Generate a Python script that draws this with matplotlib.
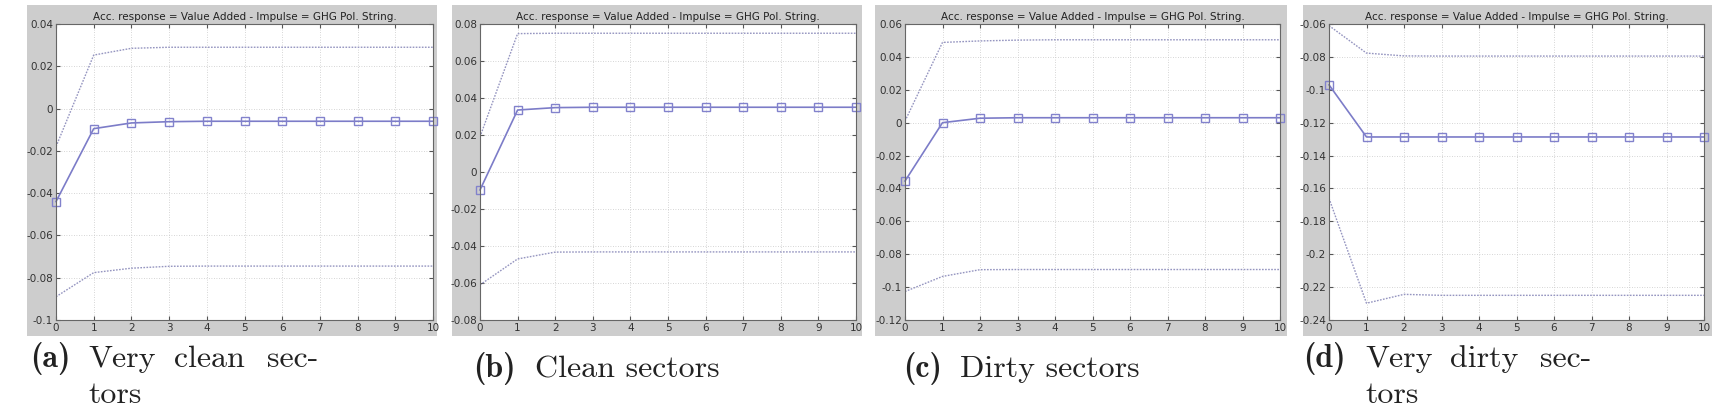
import matplotlib
matplotlib.use('Agg')
import matplotlib.pyplot as plt
import matplotlib.ticker as mticker
from matplotlib.patches import Rectangle
import numpy as np

# Horizon (periods)
steps = list(range(0, 11))

# (a) Very clean sectors
a_up = [-0.018, 0.0253, 0.0285, 0.029, 0.029, 0.029, 0.029, 0.029, 0.029, 0.029, 0.029]
a_mid = [-0.044, -0.0095, -0.0068, -0.0062, -0.006, -0.006, -0.006, -0.006, -0.006, -0.006, -0.006]
a_lo = [-0.089, -0.0776, -0.0755, -0.0746, -0.0745, -0.0745, -0.0745, -0.0745, -0.0745, -0.0745, -0.0745]

# (b) Clean sectors
b_up = [0.019, 0.0748, 0.075, 0.075, 0.075, 0.075, 0.075, 0.075, 0.075, 0.075, 0.075]
b_mid = [-0.0097, 0.0335, 0.0348, 0.035, 0.035, 0.035, 0.035, 0.035, 0.035, 0.035, 0.035]
b_lo = [-0.061, -0.047, -0.0433, -0.0432, -0.0432, -0.0432, -0.0432, -0.0432, -0.0432, -0.0432, -0.0432]

# (c) Dirty sectors
c_up = [0.001, 0.0488, 0.0497, 0.0502, 0.0504, 0.0504, 0.0504, 0.0504, 0.0504, 0.0504, 0.0504]
c_mid = [-0.0355, 0.0, 0.0027, 0.003, 0.003, 0.003, 0.003, 0.003, 0.003, 0.003, 0.003]
c_lo = [-0.1027, -0.0935, -0.0894, -0.0893, -0.0893, -0.0893, -0.0893, -0.0893, -0.0893, -0.0893, -0.0893]

# (d) Very dirty sectors
d_up = [-0.061, -0.0777, -0.0794, -0.0795, -0.0795, -0.0795, -0.0795, -0.0795, -0.0795, -0.0795, -0.0795]
d_mid = [-0.097, -0.1287, -0.1287, -0.1287, -0.1287, -0.1287, -0.1287, -0.1287, -0.1287, -0.1287, -0.1287]
d_lo = [-0.166, -0.2298, -0.2244, -0.225, -0.225, -0.225, -0.225, -0.225, -0.225, -0.225, -0.225]

ylims = [(-0.1, 0.04), (-0.08, 0.08), (-0.12, 0.06), (-0.24, -0.06)]
title = 'Acc. response = Value Added - Impulse = GHG Pol. String.'

W, H = 1717, 419
fig = plt.figure(figsize=(W / 100, H / 100), dpi=100)
fig.patch.set_facecolor('white')

def fx(px):
    return px / W

def fy(py):
    return 1 - py / H

# Gray MATLAB figure boxes (x0, x1) and axes (left, right) in pixels
boxes = [(27, 437), (452, 862), (875, 1287), (1303, 1712)]
axes_x = [(56, 433), (480, 856), (905, 1280), (1329, 1704)]
ax_top, ax_bot = 24, 320
box_top, box_bot = 5, 336

series = [(a_up, a_mid, a_lo), (b_up, b_mid, b_lo), (c_up, c_mid, c_lo), (d_up, d_mid, d_lo)]

def fmt(v, p):
    if abs(v) < 1e-9:
        return '0'
    return '%g' % round(v, 4)

for i in range(4):
    bx0, bx1 = boxes[i]
    fig.patches.append(Rectangle((fx(bx0), fy(box_bot)), fx(bx1 - bx0), (box_bot - box_top) / H,
                                 transform=fig.transFigure, facecolor='#cdcdcd', edgecolor='none', zorder=-10))
    l, r = axes_x[i]
    ax = fig.add_axes([fx(l), fy(ax_bot), fx(r - l), (ax_bot - ax_top) / H])
    ax.set_zorder(1)
    ax.set_facecolor('white')
    up, mid, lo = series[i]
    ax.plot(steps, up, linestyle=(0, (1.2, 1.0)), color='#9595c0', lw=1.0)
    ax.plot(steps, lo, linestyle=(0, (1.2, 1.0)), color='#9595c0', lw=1.0)
    ax.plot(steps, mid, '-', color='#7c7cc8', lw=1.2, marker='s', ms=6,
            markerfacecolor='none', markeredgecolor='#8282cc', markeredgewidth=1.0, clip_on=False)
    ax.set_xlim(0, 10)
    ax.set_ylim(*ylims[i])
    ax.set_xticks(steps)
    ax.yaxis.set_major_locator(mticker.MultipleLocator(0.02))
    ax.yaxis.set_major_formatter(mticker.FuncFormatter(fmt))
    ax.grid(True, linestyle=(0, (1, 2)), color='#c8c8c8', lw=0.6)
    ax.tick_params(direction='in', top=True, right=True, labelsize=7.5, colors='#555555',
                   labelcolor='#333333', length=3, pad=2)
    for s in ax.spines.values():
        s.set_color('#666666')
        s.set_linewidth(0.8)
    ax.set_title(title, fontsize=7.5, color='#222222', pad=3)

# Captions (LaTeX-like subcaptions)
cap_size = 23
def caption(label, x_lab, words, baseline):
    fig.text(fx(x_lab), fy(baseline), label, family='cmb10', fontsize=cap_size,
             color='#222222', va='baseline', ha='left')
    for w, xw in words:
        fig.text(fx(xw), fy(baseline), w, family='cmr10', fontsize=cap_size,
                 color='#222222', va='baseline', ha='left')

caption('(a)', 30, [('Very', 88), ('clean', 174), ('sec-', 267)], 367)
fig.text(fx(88), fy(403), 'tors', family='cmr10', fontsize=cap_size, color='#222222', va='baseline')
caption('(b)', 473, [('Clean sectors', 535)], 377)
caption('(c)', 903, [('Dirty sectors', 960)], 377)
caption('(d)', 1303, [('Very', 1365), ('dirty', 1450), ('sec-', 1540)], 367)
fig.text(fx(1365), fy(403), 'tors', family='cmr10', fontsize=cap_size, color='#222222', va='baseline')

fig.savefig('out.png', dpi=100)
